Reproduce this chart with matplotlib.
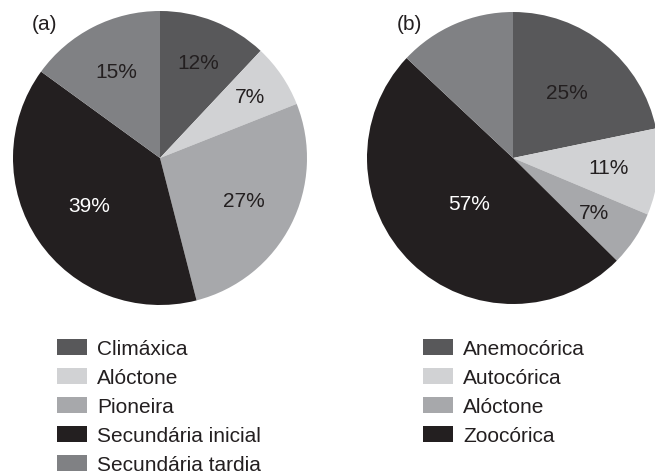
import numpy as np
import matplotlib.pyplot as plt

plt.rcParams['font.family'] = ['Liberation Sans', 'DejaVu Sans']

# (a) grupos ecológicos
grupos = ['Climáxica', 'Alóctone', 'Pioneira', 'Secundária inicial', 'Secundária tardia']
pct_grupos = [12, 7, 27, 39, 15]

# (b) síndromes de dispersão (percentuais sobre as espécies classificadas)
sindromes = ['Anemocórica', 'Autocórica', 'Alóctone', 'Zoocórica']
pct_sindromes = [25, 11, 7, 57]
nao_classificadas = 13  # fatia sem rótulo, % do total

cores_a = ['#58585a', '#d1d2d4', '#a7a8ab', '#231f20', '#808184']
cores_b = ['#58585a', '#d1d2d4', '#a7a8ab', '#231f20', '#808184']
txt_a = ['#231f20', '#231f20', '#231f20', 'white', '#231f20']
txt_b = ['#231f20', '#231f20', '#231f20', 'white']
dist_a = [0.70, 0.74, 0.64, 0.58, 0.66]
dist_b = [0.58, 0.66, 0.67, 0.43]

W, H = 655, 477
FS = 15
fig = plt.figure(figsize=(W / 100, H / 100), dpi=100)


def eixo(cx, cy, r):
    return fig.add_axes([(cx - r) / W, (H - cy - r) / H, 2 * r / W, 2 * r / H])


def rotular(ax, wedges, textos, cores, dists):
    for w, t, c, d in zip(wedges, textos, cores, dists):
        ang = np.deg2rad((w.theta1 + w.theta2) / 2)
        ax.text(d * np.cos(ang), d * np.sin(ang), t, ha='center', va='center',
                color=c, fontsize=FS)


ax1 = eixo(160, 159, 147)
w1, _ = ax1.pie(pct_grupos, colors=cores_a, startangle=90, counterclock=False,
                wedgeprops=dict(linewidth=0))
rotular(ax1, w1, ['%d%%' % v for v in pct_grupos], txt_a, dist_a)
ax1.set_xlim(-1, 1)
ax1.set_ylim(-1, 1)

ax2 = eixo(513, 159, 146)
fatias_b = [v * (100 - nao_classificadas) / 100 for v in pct_sindromes] + [nao_classificadas]
w2, _ = ax2.pie(fatias_b, colors=cores_b, startangle=90, counterclock=False,
                wedgeprops=dict(linewidth=0))
rotular(ax2, w2[:4], ['%d%%' % v for v in pct_sindromes], txt_b, dist_b)
ax2.set_xlim(-1, 1)
ax2.set_ylim(-1, 1)

fig.text(32 / W, 1 - 24 / H, '(a)', fontsize=FS, va='center', color='#231f20')
fig.text(397 / W, 1 - 24 / H, '(b)', fontsize=FS, va='center', color='#231f20')

estilo = dict(frameon=False, fontsize=FS, handlelength=1.44, handleheight=0.82,
              handletextpad=0.48, labelspacing=0.46, borderpad=0, borderaxespad=0,
              loc='upper left', labelcolor='#231f20')
fig.legend(w1, grupos, bbox_to_anchor=(57 / W, 1 - 340 / H), **estilo)
fig.legend(w2[:4], sindromes, bbox_to_anchor=(423 / W, 1 - 340 / H), **estilo)

fig.savefig('out.png', dpi=100)
